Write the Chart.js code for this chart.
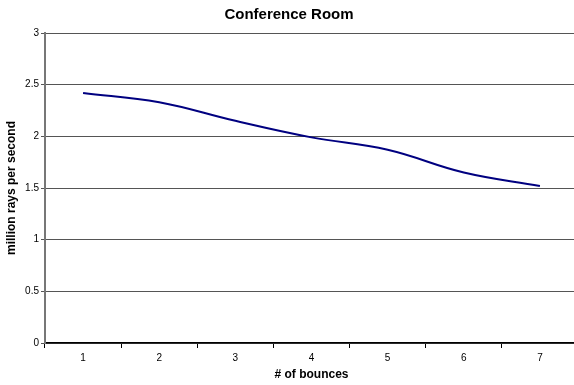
<!DOCTYPE html>
<html>
<head>
<meta charset="utf-8">
<script src="https://cdn.jsdelivr.net/npm/chart.js@4.4.1/dist/chart.umd.min.js"></script>
<style>
  html,body{margin:0;padding:0;background:#fff;}
  #wrap{width:574px;height:385px;overflow:hidden;position:relative;}
  canvas{display:block;}
</style>
</head>
<body>
<div id="wrap"><canvas id="chart" width="578" height="385"></canvas></div>
<script>
/* ================= DATEN ================= */
const BOUNCES = ["1","2","3","4","5","6","7"];
const MRAYS = [2.42, 2.33, 2.15, 1.99, 1.87, 1.65, 1.52];
const Y_MIN = 0, Y_MAX = 3, Y_STEP = 0.5;

const FONT = "'Liberation Sans', Arial, sans-serif";

/* ================= CHART ================= */
new Chart(document.getElementById("chart"),{
    type:"line",
    data:{
        labels:BOUNCES,
        datasets:[
            {label:"Conference Room", data:MRAYS, borderColor:"#000080", borderWidth:2,
             pointRadius:0, tension:0.4, fill:false}
        ]
    },
    options:{
        responsive:false,
        animation:false,
        devicePixelRatio:1,
        layout:{padding:0},
        plugins:{
            legend:{display:false},
            tooltip:{enabled:false},
            title:{display:true, text:"Conference Room", color:"#000",
                   font:{family:FONT, size:15, weight:"bold"}, padding:{top:6, bottom:9}}
        },
        scales:{
            x:{
                offset:true,
                grid:{offset:true, drawOnChartArea:false, drawTicks:true, tickLength:5, color:"#000"},
                border:{color:"#000", width:1.5},
                ticks:{color:"#000", font:{family:FONT, size:10}, padding:4, maxRotation:0},
                title:{display:true, text:"# of bounces", color:"#000",
                       font:{family:FONT, size:12, weight:"bold"}, padding:{top:0, bottom:3}},
                afterFit:(s)=>{ s.height = 42; }
            },
            y:{
                min:Y_MIN, max:Y_MAX,
                grid:{color:"#555", lineWidth:1, drawTicks:true, tickLength:4},
                border:{color:"#777", width:2},
                ticks:{stepSize:Y_STEP, color:"#000", font:{family:FONT, size:10}, padding:2,
                       callback:(v)=>String(v)},
                title:{display:true, text:"million rays per second", color:"#000",
                       font:{family:FONT, size:12, weight:"bold"}, padding:{top:4, bottom:0}},
                afterFit:(s)=>{ s.width = 45; }
            }
        }
    }
});
</script>
</body>
</html>
